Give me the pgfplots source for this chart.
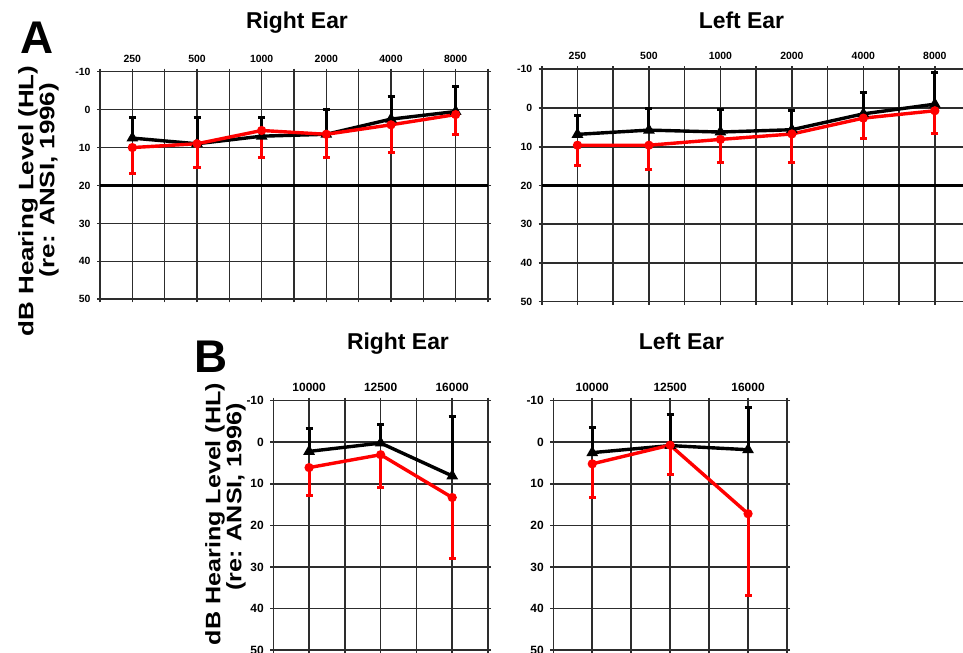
\documentclass[border=0pt]{standalone}
\usepackage{fontspec}
\setmainfont{Liberation Sans}
\usepackage{pgfplots}
\pgfplotsset{compat=1.18}
\definecolor{gridc}{RGB}{45,45,45}
\definecolor{redc}{RGB}{255,0,0}
\pgfplotsset{
  aud/.style={
    scale only axis,
    y dir=reverse,
    ymin=-10, ymax=50,
    ytick={-10,0,10,20,30,40,50},
    yticklabels={-10,0,10,20,30,40,50},
    xticklabel pos=right,
    axis line style={draw=none},
    grid=both,
    major grid style={gridc, line width=1.6bp},
    minor grid style={gridc, line width=1.6bp},
    tick align=outside,
    major tick length=3bp, minor tick length=3bp,
    tick style={gridc, line width=1.6bp},
    clip=false,
  },
  blk/.style={black, line width=3.4bp, mark=triangle*, mark size=3.4bp,
    mark options={solid},
    error bars/.cd, y dir=minus, y explicit,
    error mark=-, error mark options={rotate=90, black, line width=3bp, mark size=3.5bp},
    error bar style={line width=3bp, black}},
  rd/.style={redc, line width=3.4bp, mark=*, mark size=2.8bp,
    error bars/.cd, y dir=plus, y explicit,
    error mark=-, error mark options={rotate=90, redc, line width=3bp, mark size=3.5bp},
    error bar style={line width=3bp, redc}},
}
\newcommand{\tfA}{\fontsize{10.5}{10.5}\selectfont\bfseries}
\newcommand{\tfB}{\fontsize{12}{12}\selectfont\bfseries}
\begin{document}
\begin{tikzpicture}[x=1bp,y=1bp]
\useasboundingbox (0,0) rectangle (963,653);

% ---- Panel A, Right Ear
\begin{scope}[shift={(100,353.7)}]
\begin{axis}[aud,
  width=388bp, height=227.6bp,
  xmin=-0.5, xmax=5.5,
  xtick={0,...,5}, xticklabels={250,500,1000,2000,4000,8000},
  minor xtick={-0.5,0.5,...,5.5},
  ticklabel style={font=\tfA},
  xticklabel shift=3bp, yticklabel shift=3bp]
\addplot[black, line width=3.2bp, forget plot] coordinates {(-0.5,20) (5.5,20)};
\addplot[blk] coordinates {(0,7.5) +- (0,5.5) (1,9) +- (0,7) (2,7) +- (0,5) (3,6.5) +- (0,6.5) (4,2.5) +- (0,5.9) (5,0.5) +- (0,6.5)};
\addplot[rd] coordinates {(0,10) +- (0,6.8) (1,9) +- (0,6.2) (2,5.5) +- (0,7) (3,6.5) +- (0,6.2) (4,4) +- (0,7.3) (5,1.3) +- (0,5.2)};
\end{axis}
\end{scope}

% ---- Panel A, Left Ear
\begin{scope}[shift={(541.7,351.3)}]
\begin{axis}[aud,
  width=421.3bp, height=232.4bp,
  xmin=-0.5, xmax=5.394,
  xtick={0,...,5}, xticklabels={250,500,1000,2000,4000,8000},
  minor xtick={-0.5,0.5,...,4.5},
  ticklabel style={font=\tfA},
  xticklabel shift=3bp, yticklabel shift=3bp]
\addplot[black, line width=3.2bp, forget plot] coordinates {(-0.5,20) (5.394,20)};
\addplot[blk] coordinates {(0,6.8) +- (0,4.8) (1,5.7) +- (0,5.7) (2,6.2) +- (0,5.7) (3,5.6) +- (0,4.9) (4,1.5) +- (0,5.6) (5,-1) +- (0,8.2)};
\addplot[rd] coordinates {(0,9.6) +- (0,5.3) (1,9.6) +- (0,6.3) (2,8.1) +- (0,5.9) (3,6.7) +- (0,7.4) (4,2.6) +- (0,5.2) (5,0.7) +- (0,5.8)};
\end{axis}
\end{scope}

% ---- Panel B, Right Ear
\begin{scope}[shift={(273.3,3)}]
\begin{axis}[aud,
  width=214.7bp, height=249.3bp,
  xmin=-0.5, xmax=2.5,
  xtick={0,1,2}, xticklabels={10000,12500,16000},
  minor xtick={-0.5,0.5,1.5,2.5},
  ticklabel style={font=\tfB},
  xticklabel shift=3bp, yticklabel shift=3bp]
\addplot[blk] coordinates {(0,2.2) +- (0,5.6) (1,0.2) +- (0,4.4) (2,8.1) +- (0,14.2)};
\addplot[rd] coordinates {(0,6.1) +- (0,6.7) (1,3.0) +- (0,7.8) (2,13.3) +- (0,14.7)};
\end{axis}
\end{scope}

% ---- Panel B, Left Ear
\begin{scope}[shift={(553.3,3)}]
\begin{axis}[aud,
  width=233.7bp, height=249.3bp,
  xmin=-0.5, xmax=2.5,
  xtick={0,1,2}, xticklabels={10000,12500,16000},
  minor xtick={-0.5,0.5,1.5,2.5},
  ticklabel style={font=\tfB},
  xticklabel shift=3bp, yticklabel shift=3bp]
\addplot[blk] coordinates {(0,2.5) +- (0,6.1) (1,0.8) +- (0,7.4) (2,1.8) +- (0,10.2)};
\addplot[rd] coordinates {(0,5.2) +- (0,8.2) (1,0.7) +- (0,7.1) (2,17.2) +- (0,19.6)};
\end{axis}
\end{scope}

% ---- Titles and labels
\node[font=\fontsize{23}{23}\selectfont\bfseries, anchor=base] at (297,624) {Right Ear};
\node[font=\fontsize{23}{23}\selectfont\bfseries, anchor=base] at (741.5,624) {Left Ear};
\node[font=\fontsize{23}{23}\selectfont\bfseries, anchor=base] at (398,303) {Right Ear};
\node[font=\fontsize{23}{23}\selectfont\bfseries, anchor=base] at (681.5,303) {Left Ear};
\node[font=\fontsize{46}{46}\selectfont\bfseries] at (37,615) {A};
\node[font=\fontsize{46}{46}\selectfont\bfseries] at (211,296) {B};

\node[rotate=90, font=\fontsize{21}{21}\selectfont\bfseries] at (28,452) {\scalebox{1.24}[1]{dB Hearing Level (HL)}};
\node[rotate=90, font=\fontsize{21}{21}\selectfont\bfseries] at (49,473) {\scalebox{1.24}[1]{(re: ANSI, 1996)}};
\node[rotate=90, font=\fontsize{21}{21}\selectfont\bfseries] at (215,139) {\scalebox{1.2}[1]{dB Hearing Level (HL)}};
\node[rotate=90, font=\fontsize{21}{21}\selectfont\bfseries] at (236,156) {\scalebox{1.2}[1]{(re: ANSI, 1996)}};
\end{tikzpicture}
\end{document}
